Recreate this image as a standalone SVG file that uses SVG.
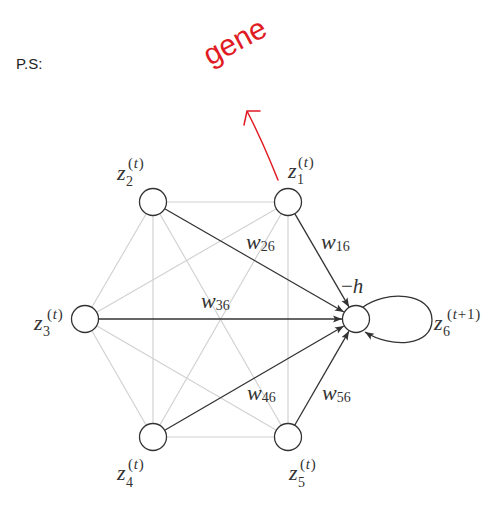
<svg xmlns="http://www.w3.org/2000/svg" width="503" height="510" viewBox="0 0 503 510">
<style>
.bg{fill:#fff}
.gl{stroke:#d2d2d2;stroke-width:1.2;fill:none}
.dl{stroke:#333;stroke-width:1.3;fill:none;marker-end:url(#ah)}
.nd{fill:#fff;stroke:#333;stroke-width:1.3}
.m{font-family:"Liberation Serif",serif;fill:#333}
.it{font-style:italic;font-size:22px}
.sb{font-size:14px}
.sp{font-size:15px;letter-spacing:0.8px}
.red{stroke:#e01b24;stroke-width:1.5;fill:none;stroke-linecap:round;stroke-linejoin:round}
</style>
<defs>
<marker id="ah" markerUnits="userSpaceOnUse" markerWidth="10" markerHeight="8" refX="9" refY="4" orient="auto">
<path d="M0,0.5 L9,4 L0,7.5 L2,4 Z" fill="#333"/>
</marker>
</defs>
<rect class="bg" x="0" y="0" width="503" height="510"/>
<text x="16" y="69" font-family="Liberation Sans,Arial,sans-serif" font-size="15" fill="#222">P.S:</text>
<g id="annotation">
<text transform="translate(210,66) rotate(-28)" font-family="Liberation Sans,Arial,sans-serif" font-size="30" fill="#e01b24">gene</text>
<path class="red" d="M278,180 Q262,140 247,111 M260,111 L247,111 L244,125"/>
</g>
<g id="connectors">
<g id="undirected">
<line class="gl" x1="153" y1="202" x2="288" y2="202"/>
<line class="gl" x1="153" y1="202" x2="85" y2="319"/>
<line class="gl" x1="153" y1="202" x2="153" y2="437"/>
<line class="gl" x1="153" y1="202" x2="288" y2="437"/>
<line class="gl" x1="288" y1="202" x2="85" y2="319"/>
<line class="gl" x1="288" y1="202" x2="153" y2="437"/>
<line class="gl" x1="288" y1="202" x2="288" y2="437"/>
<line class="gl" x1="85" y1="319" x2="153" y2="437"/>
<line class="gl" x1="85" y1="319" x2="288" y2="437"/>
<line class="gl" x1="153" y1="437" x2="288" y2="437"/>
</g>
<path id="e16" class="dl" d="M294.8,213.7 L349,306.9"/>
<path id="e26" class="dl" d="M164.7,208.7 L343.9,312"/>
<path id="e36" class="dl" d="M98.5,319 L342,319"/>
<path id="e46" class="dl" d="M164.7,430.2 L343.9,326"/>
<path id="e56" class="dl" d="M294.7,425.3 L349,331.1"/>
<path id="e66" class="dl" d="M362.8,307.3 C385,290 432,292 432,320 C432,346 392,349 365,332"/>
<g id="edge-labels" class="m">
<text x="246" y="249"><tspan class="it">w</tspan><tspan class="sb" dy="2">26</tspan></text>
<text x="321" y="249"><tspan class="it">w</tspan><tspan class="sb" dy="2">16</tspan></text>
<text x="201" y="308"><tspan class="it">w</tspan><tspan class="sb" dy="2">36</tspan></text>
<text x="247" y="400"><tspan class="it">w</tspan><tspan class="sb" dy="2">46</tspan></text>
<text x="322" y="400"><tspan class="it">w</tspan><tspan class="sb" dy="2">56</tspan></text>
</g>
</g>
<g id="z1" class="m">
<circle class="nd" cx="288" cy="202" r="13.5"/>
<text x="288" y="178" class="it">z</text><text x="297" y="184" class="sb">1</text><text x="298" y="167" class="sp">(<tspan font-style="italic">t</tspan>)</text>
</g>
<g id="z2" class="m">
<circle class="nd" cx="153" cy="202" r="13.5"/>
<text x="117" y="180" class="it">z</text><text x="126" y="186" class="sb">2</text><text x="128" y="168" class="sp">(<tspan font-style="italic">t</tspan>)</text>
</g>
<g id="z3" class="m">
<circle class="nd" cx="85" cy="319" r="13.5"/>
<text x="34" y="330" class="it">z</text><text x="43" y="336" class="sb">3</text><text x="47" y="319" class="sp">(<tspan font-style="italic">t</tspan>)</text>
</g>
<g id="z4" class="m">
<circle class="nd" cx="153" cy="437" r="13.5"/>
<text x="117" y="480" class="it">z</text><text x="126" y="487" class="sb">4</text><text x="128" y="469" class="sp">(<tspan font-style="italic">t</tspan>)</text>
</g>
<g id="z5" class="m">
<circle class="nd" cx="288" cy="437" r="13.5"/>
<text x="289" y="480" class="it">z</text><text x="298" y="487" class="sb">5</text><text x="300" y="469" class="sp">(<tspan font-style="italic">t</tspan>)</text>
</g>
<g id="z6" class="m">
<circle class="nd" cx="356" cy="319" r="13.5"/>
<text x="341" y="293" font-size="21"><tspan>−</tspan><tspan font-style="italic">h</tspan></text>
<text x="434" y="330" class="it">z</text><text x="443" y="336" class="sb">6</text><text x="447" y="319" class="sp" font-size="16">(<tspan font-style="italic">t</tspan>+1)</text>
</g>
</svg>
